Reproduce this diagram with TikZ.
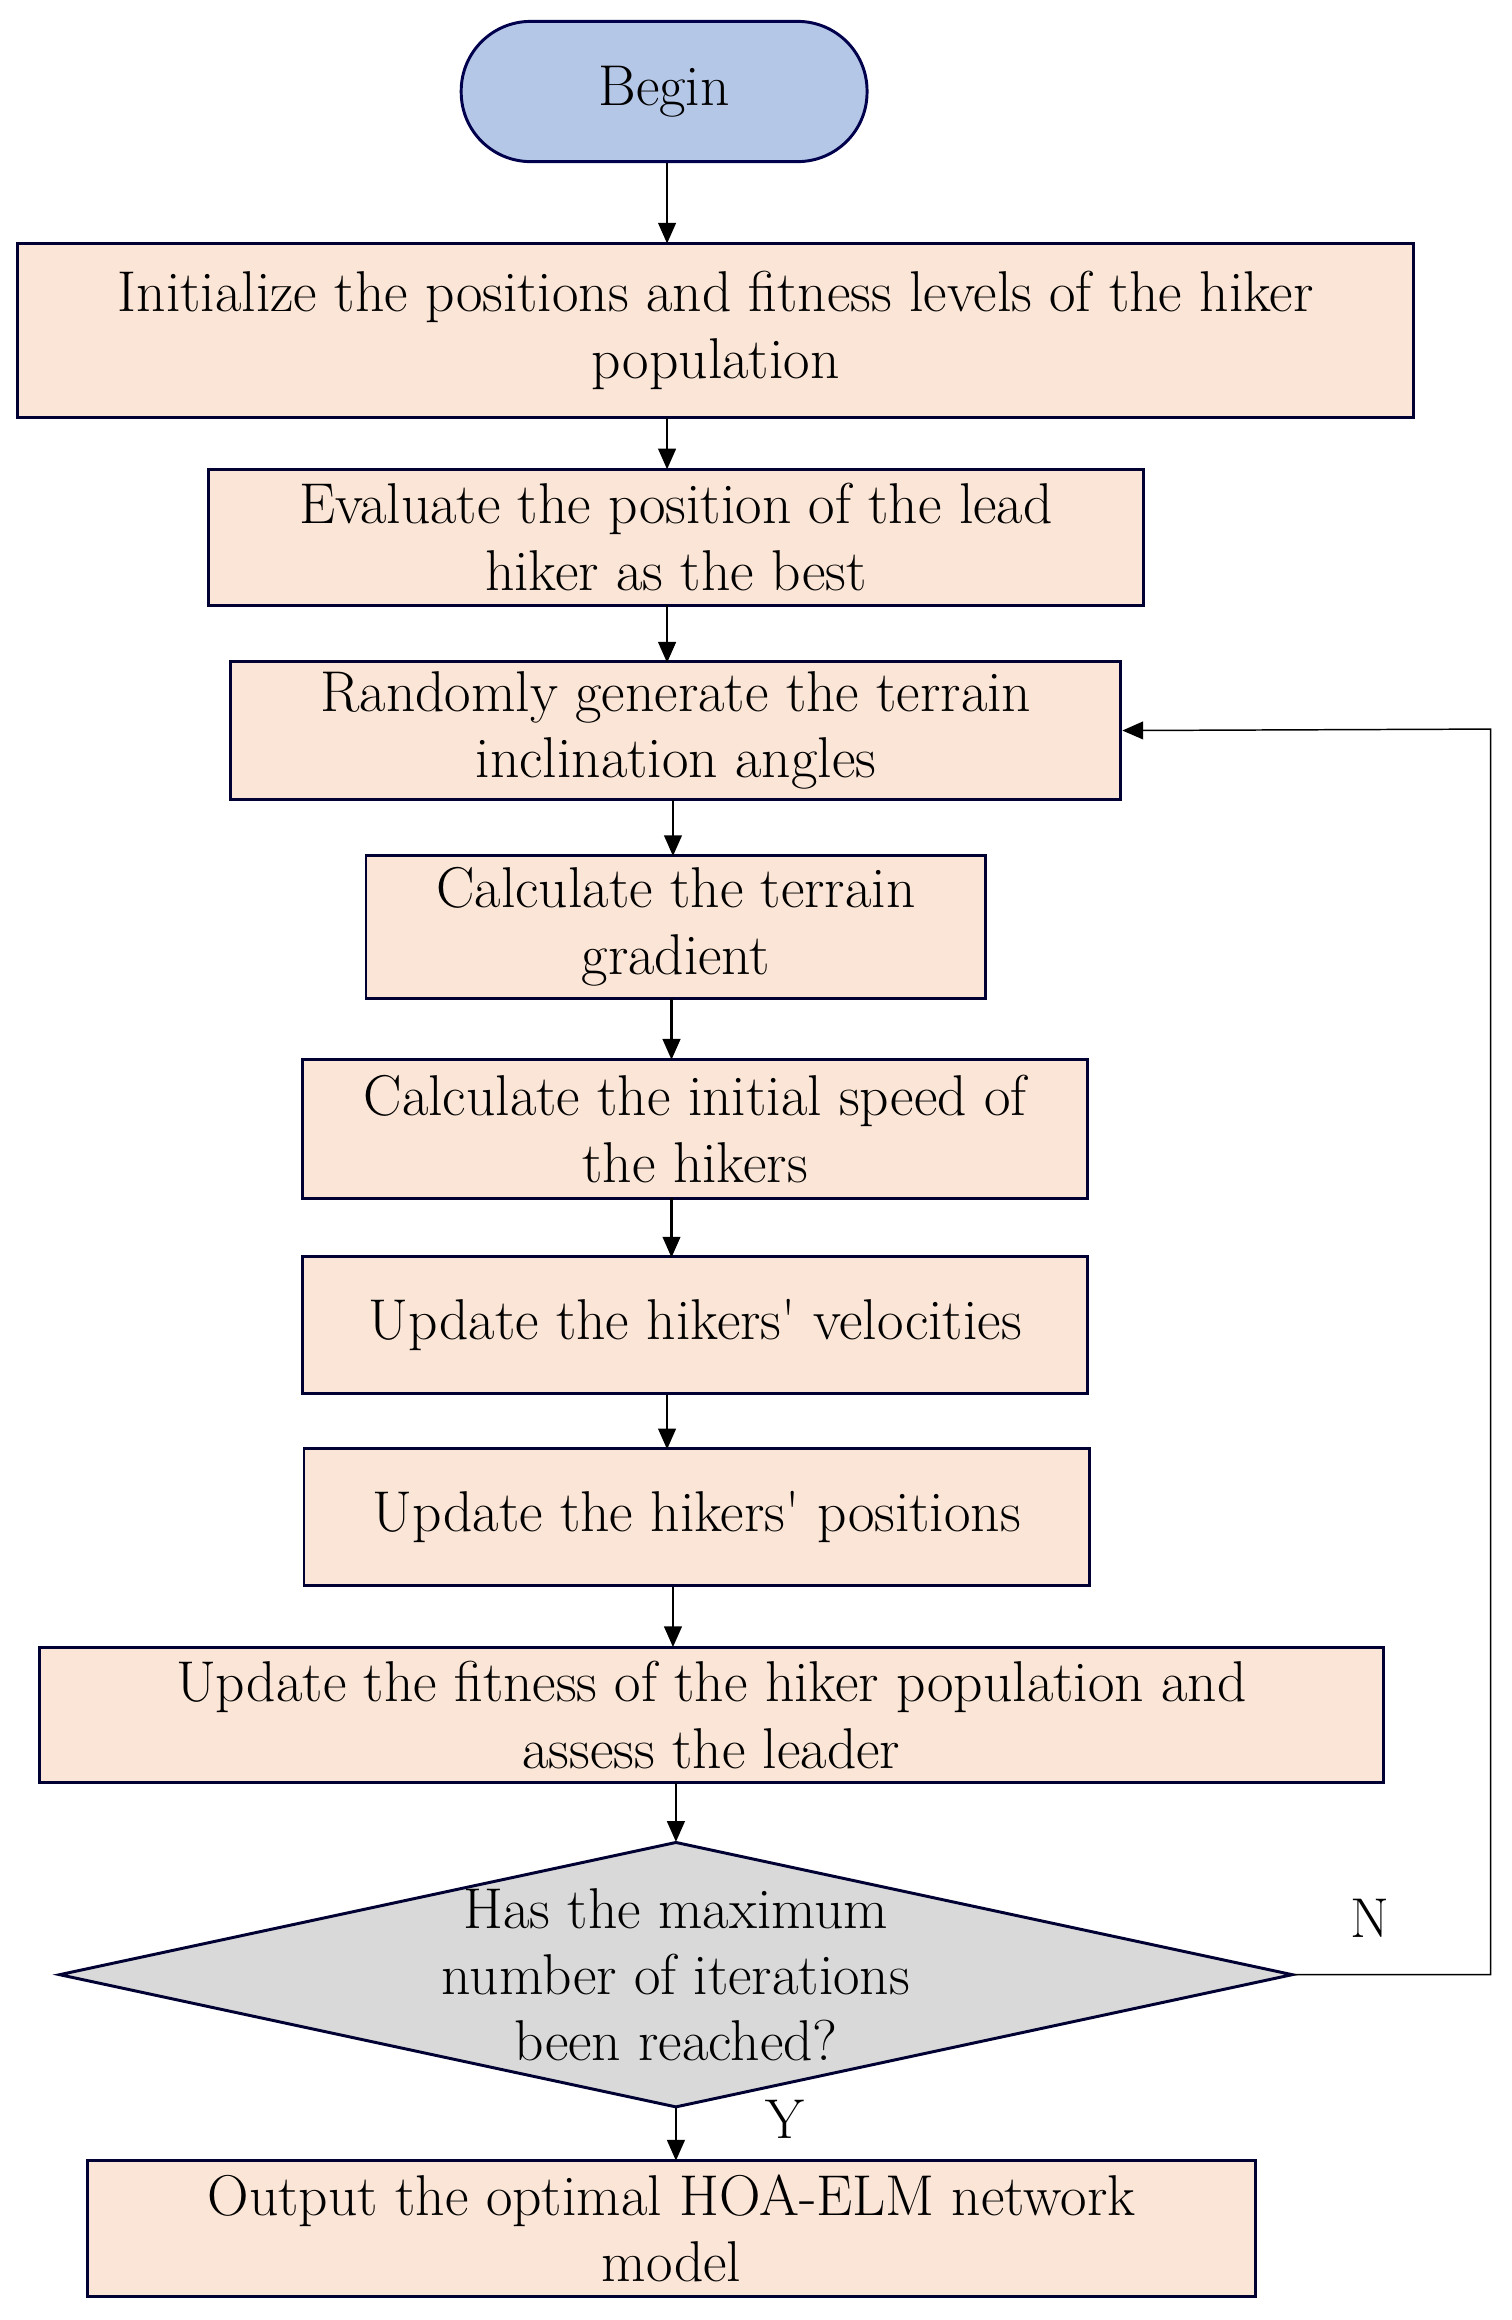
\documentclass[tikz,border=0pt]{standalone}
\usetikzlibrary{shapes.geometric,arrows.meta}
\begin{document}
\begin{tikzpicture}[x=1pt,y=-1pt,
  box/.style={draw=black!80!blue,line width=2pt,fill=peach,align=center,font=\fontsize{39}{45}\selectfont,inner sep=0pt},
  arr/.style={-{Triangle[length=14pt,width=12pt]},line width=1.4pt},
  lab/.style={font=\fontsize{38}{40}\selectfont}]
\definecolor{peach}{HTML}{FBE5D6}
\definecolor{bluef}{HTML}{B4C7E7}
\definecolor{greyf}{HTML}{D9D9D9}
\useasboundingbox (0,0) rectangle (1024,1572);
\node[box,fill=bluef,draw=black!70!blue,rounded corners=47pt,minimum width=275pt,minimum height=95pt] (b) at (450,62) {Begin};
\node[box,minimum width=946pt,minimum height=118pt] (n1) at (485,224) {Initialize the positions and fitness levels of the hiker\\population};
\node[box,minimum width=633pt,minimum height=92pt] (n2) at (458,364) {Evaluate the position of the lead\\hiker as the best};
\node[box,minimum width=603pt,minimum height=93pt] (n3) at (458,495) {Randomly generate the terrain\\inclination angles};
\node[box,minimum width=420pt,minimum height=97pt] (n4) at (458,628) {Calculate the terrain\\gradient};
\node[box,minimum width=532pt,minimum height=94pt] (n5) at (471,765) {Calculate the initial speed of\\the hikers};
\node[box,minimum width=532pt,minimum height=93pt] (n6) at (471,898) {Update the hikers\textquotesingle\ velocities};
\node[box,minimum width=532pt,minimum height=93pt] (n7) at (472,1028) {Update the hikers\textquotesingle\ positions};
\node[box,minimum width=911pt,minimum height=92pt] (n8) at (482,1162) {Update the fitness of the hiker population and\\assess the leader};
\node[diamond,box,fill=greyf,aspect=4.64,minimum width=836pt,minimum height=180pt] (d) at (458,1338) {};
\node[align=center,font=\fontsize{39}{45}\selectfont] (dt) at (458,1338) {Has the maximum\\number of iterations\\been reached?};
\node[box,minimum width=791pt,minimum height=92pt] (n9) at (455,1510) {Output the optimal HOA-ELM network\\model};
\draw[arr] (b.south -| 452,0) -- (452,165);
\draw[arr] (452,283) -- (452,318);
\draw[arr] (452,410) -- (452,449);
\draw[arr] (456,542) -- (456,580);
\draw[arr] (455,677) -- (455,718);
\draw[arr] (455,812) -- (455,852);
\draw[arr] (452,945) -- (452,982);
\draw[arr] (456,1075) -- (456,1116);
\draw[arr] (458,1208) -- (458,1248);
\draw[arr] (458,1428) -- (458,1464);
\coordinate (c1) at (1010,1338);
\coordinate (c2) at (1010,494);
\draw[arr,line width=1pt] (d.east) -- (c1) -- (c2) -- (n3.east);
\node[lab] (nl) at (928,1300) {N};
\node[lab] (yl) at (532,1436) {Y};
\end{tikzpicture}
\end{document}
